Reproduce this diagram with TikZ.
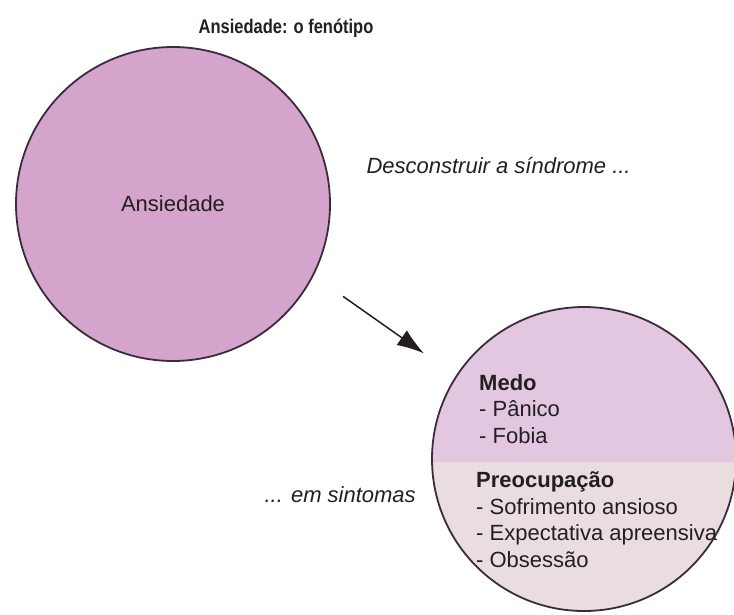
\documentclass[tikz,border=0pt]{standalone}
\usepackage{fontspec}
\setmainfont{Liberation Sans}
\usetikzlibrary{
  arrows.meta,
}
\definecolor{bigfill}{HTML}{D4A4CD}
\definecolor{medofill}{HTML}{E3C7E1}
\definecolor{preofill}{HTML}{E9DDDF}
\definecolor{rim}{HTML}{3B2B3B}
\definecolor{ink}{HTML}{231F20}

\begin{document}
\begin{tikzpicture}[
  x=1pt,
  y=-1pt,
  every node/.style={
    text=ink,
    font={\fontsize{22}{26.5}\selectfont},
  },
  phenotype/.style n args={2}{
    draw=rim,
    line width=1.8pt,
    circle,
    inner sep=0pt,
    fill=#1,
    minimum size=#2,
  },
  title/.style={
    font={\fontsize{16.5}{19}\selectfont\bfseries},
  },
  note/.style={
    font={\fontsize{22}{26.5}\selectfont\itshape},
    anchor=base west,
  },
  list/.style={
    align=left,
    anchor=base west,
    inner sep=0pt,
  },
  arrow/.style={
    -{Latex[length=27pt,width=18pt]},
    draw=ink,
    line width=1.5pt,
  },
]
  \useasboundingbox (0,0) rectangle (734,614);

  %%%%%%%%%%%%%%%%%%%% Title %%%%%%%%%%%%%%%%%%%%

  \node[title,anchor=base] (title) at (286,33)
    {\scalebox{1}[1.2]{Ansiedade: o fenótipo}};

  %%%%%%%%%%%%%%%%%%%% Syndrome %%%%%%%%%%%%%%%%%%%%

  \node[phenotype={bigfill}{314pt}] (syndrome) at (173,204) {Ansiedade};

  \node[note] (deconstruct) at (363,173) {Desconstruir a síndrome ...};

  %%%%%%%%%%%%%%%%%%%% Symptoms %%%%%%%%%%%%%%%%%%%%

  \node[phenotype={preofill}{304pt},
    path picture={
      \fill[medofill] (path picture bounding box.north west)
        rectangle ([yshift=-3pt]path picture bounding box.east);
    }] (symptoms) at (584,459) {};

  \node[note] (insymptoms) at (261,502) {... em sintomas};

  % base = last line
  \node[list] (medo) at (479,443)
    {\textbf{Medo}\\
     - Pânico\\
     - Fobia};

  \node[list] (preocupacao) at (476,567)
    {\textbf{Preocupação}\\
     - Sofrimento ansioso\\
     - Expectativa apreensiva\\
     - Obsessão};

  \draw[arrow,shorten <=36pt,shorten >=39pt] (syndrome.-27) -- (symptoms.147);
\end{tikzpicture}
\end{document}
